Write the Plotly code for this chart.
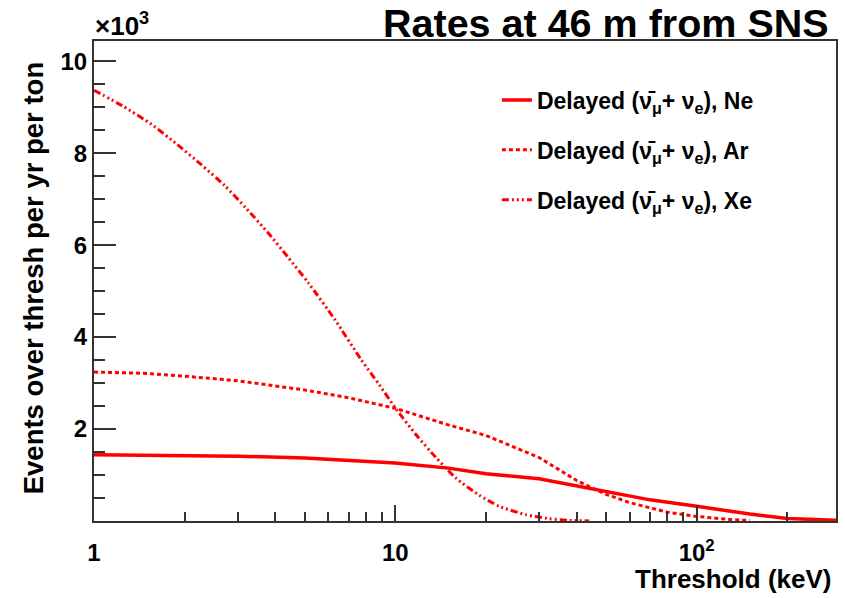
import plotly.graph_objects as go

# Threshold energies (keV) and integrated event rates above threshold (events / yr / ton)
ne_thresh = [1, 2, 3, 5, 7, 10, 15, 20, 30, 40, 50, 70, 100, 150, 200, 290]
ne_rate = [1440, 1430, 1410, 1370, 1320, 1260, 1150, 1030, 920, 770, 640, 460, 320, 150, 55, 15]

ar_thresh = [1, 1.5, 2, 3, 5, 7, 10, 15, 20, 30, 40, 50, 60, 80, 100, 130, 150]
ar_rate = [3240, 3210, 3150, 3050, 2850, 2680, 2450, 2090, 1860, 1380, 880, 580, 400, 190, 100, 30, 10]

xe_thresh = [1, 1.25, 1.55, 1.88, 2.27, 2.71, 3.2, 3.78, 4.4, 5.13, 6.3, 7.7, 8.85,
             10.1, 11.7, 13.6, 15.9, 19, 22.1, 27, 32.4, 38, 44]
xe_rate = [9370, 9020, 8630, 8200, 7750, 7300, 6800, 6270, 5740, 5190, 4380, 3510, 2960,
           2420, 1880, 1390, 930, 560, 320, 140, 50, 15, 0]

nubar = "\u03bd\u0304"
labels = [
    f"Delayed ({nubar}<sub>\u03bc</sub>+ \u03bd<sub>e</sub>), Ne",
    f"Delayed ({nubar}<sub>\u03bc</sub>+ \u03bd<sub>e</sub>), Ar",
    f"Delayed ({nubar}<sub>\u03bc</sub>+ \u03bd<sub>e</sub>), Xe",
]

x_major = [1, 10, 100]
x_major_text = ["1", "10", "10<sup>2</sup>"]
x_minor = [2, 3, 4, 5, 6, 7, 8, 9, 20, 30, 40, 50, 60, 70, 80, 90, 200]

y_major = [2000, 4000, 6000, 8000, 10000]
y_major_text = ["2", "4", "6", "8", "10"]
y_minor = [500 * k for k in range(1, 21)]

RED = "#ff0000"
FONT = "Liberation Sans"
AXIS = "#333333"

fig = go.Figure()
fig.add_trace(go.Scatter(x=ne_thresh, y=ne_rate, mode="lines", name=labels[0],
                         legendgroup="ne", line=dict(color=RED, width=3.5)))
fig.add_trace(go.Scatter(x=ar_thresh, y=ar_rate, mode="lines", name=labels[1],
                         legendgroup="ar", line=dict(color=RED, width=3, dash="4px,3px")))
fig.add_trace(go.Scatter(x=xe_thresh, y=xe_rate, mode="lines", name=labels[2],
                         legendgroup="xe",
                         line=dict(color=RED, width=3, shape="spline", smoothing=0.6,
                                   dash="7px,3px,2px,3px,2px,3px,2px,3px")))

fig.update_layout(
    width=845, height=598,
    margin=dict(l=94, r=7, t=41, b=77),
    plot_bgcolor="white", paper_bgcolor="white",
    font=dict(family=FONT, color="black"),
    showlegend=True,
    legend=dict(x=0.543, y=0.922, xanchor="left", yanchor="top",
                bgcolor="rgba(0,0,0,0)", borderwidth=0, tracegroupgap=17,
                font=dict(size=23, family=FONT, weight="bold")),
    xaxis=dict(
        type="log", range=[0, 2.4624],
        showgrid=False, zeroline=False,
        showline=True, mirror=True, linecolor=AXIS, linewidth=2,
        tickmode="array", tickvals=x_major, ticktext=x_major_text,
        ticks="inside", ticklen=16, tickwidth=1.5, tickcolor=AXIS,
        ticklabelstandoff=9,
        tickfont=dict(size=24, family=FONT, weight="bold"),
        minor=dict(tickmode="array", tickvals=x_minor, ticks="inside",
                   ticklen=9, tickwidth=1.5, tickcolor=AXIS, showgrid=False),
    ),
    yaxis=dict(
        range=[0, 10440],
        showgrid=False, zeroline=False,
        showline=True, mirror=True, linecolor=AXIS, linewidth=2,
        tickmode="array", tickvals=y_major, ticktext=y_major_text,
        ticks="inside", ticklen=22, tickwidth=2, tickcolor=AXIS,
        ticklabelstandoff=0,
        tickfont=dict(size=24, family=FONT, weight="bold"),
        minor=dict(tickmode="array", tickvals=y_minor, ticks="inside",
                   ticklen=11, tickwidth=2, tickcolor=AXIS, showgrid=False),
    ),
)

annotations = [
    dict(text="Rates at 46 m from SNS", x=0.9933, y=1.0375, xanchor="right",
         yanchor="middle", font=dict(size=39.5, family=FONT, weight="bold")),
    dict(text="\u00d710<sup>3</sup>", x=-0.002, y=1.035, xanchor="left",
         yanchor="middle", font=dict(size=26, family=FONT, weight="bold")),
    dict(text="Threshold (keV)", x=0.996, y=-0.121, xanchor="right",
         yanchor="middle", font=dict(size=26, family=FONT, weight="bold")),
    dict(text="Events over thresh per yr per ton", x=-0.082, y=0.506,
         xanchor="center", yanchor="middle", textangle=-90,
         font=dict(size=27.5, family=FONT, weight="bold")),
]
for a in annotations:
    fig.add_annotation(xref="paper", yref="paper", showarrow=False, **a)

fig.write_html("out.html")
